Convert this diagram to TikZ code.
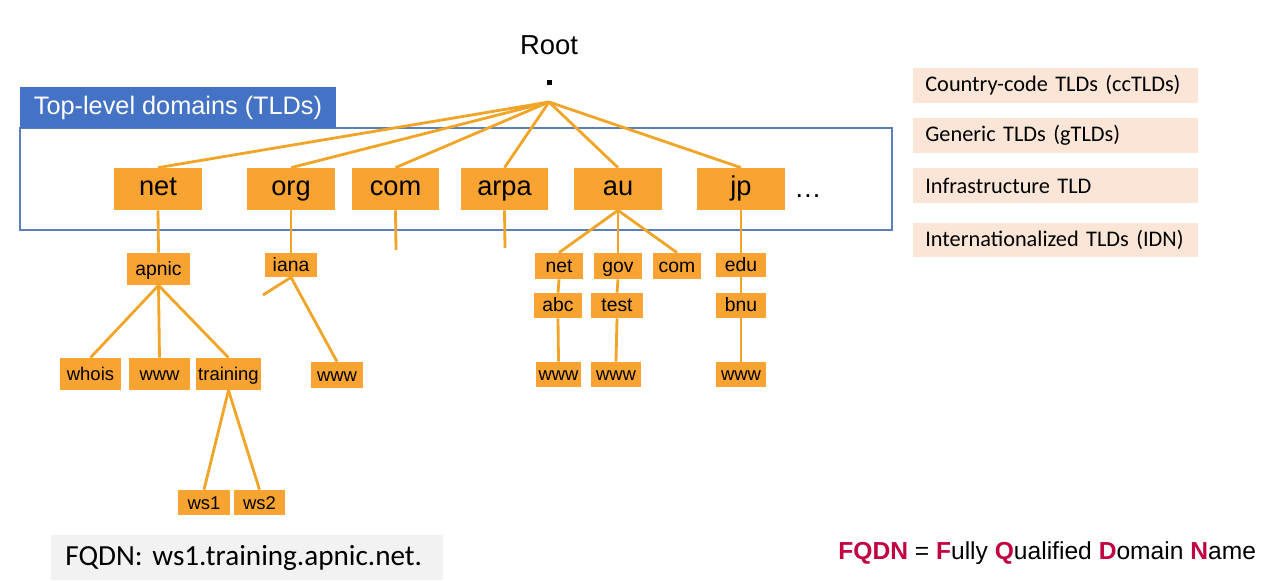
\documentclass[tikz,border=0pt]{standalone}
\usepackage{fontspec}
\setmainfont{Liberation Sans}
\newfontfamily\calibrifont{Carlito}
\frenchspacing
\definecolor{boxorange}{HTML}{F9A332}
\definecolor{lineorange}{HTML}{F0A428}
\definecolor{tabblue}{HTML}{4472C4}
\definecolor{tldblue}{HTML}{5B80B8}
\definecolor{legendpeach}{HTML}{FBE5D6}
\definecolor{fqdngrey}{HTML}{F2F2F2}
\definecolor{fqdnred}{HTML}{C00040}

\begin{document}
\begin{tikzpicture}[x=0.02cm, y=-0.02cm,
  tld/.style={fill=boxorange, minimum width=1.76cm, minimum height=0.84cm, inner sep=0pt, text height=1.85ex, text depth=0.35ex, font=\fontsize{15.5}{18}\selectfont},
  sub/.style={fill=boxorange, inner sep=0pt, minimum height=0.52cm, text height=1.8ex, text depth=0.4ex, font=\fontsize{11}{13}\selectfont},
  leaf/.style={fill=boxorange, inner sep=0pt, minimum height=0.5cm, text height=1.8ex, text depth=0.4ex, font=\fontsize{10.5}{12}\selectfont},
  link/.style={draw=lineorange, line width=1.6pt},
  legend/.style={fill=legendpeach, anchor=west, text width=5.22cm, inner xsep=0.24cm, inner ysep=0pt, minimum height=0.7cm, align=left, font=\calibrifont\fontsize{12.7}{15}\selectfont}]
  \useasboundingbox (0,0) rectangle (1269,581);
  % cuadro de dominios de nivel superior
  \draw[draw=tldblue, line width=1.1pt] (20,128) rectangle (892,230);
  \fill[tabblue] (20,87) rectangle (336,128);
  \node[text=white, font=\fontsize{14.4}{17}\selectfont] (tabtitle) at (178,107.5) {Top-level domains (TLDs)};
  % raiz
  \node[font=\fontsize{15.6}{18}\selectfont] (roottxt) at (549,45) {Root};
  \node[fill=black, minimum size=0.1cm, inner sep=0pt] (root) at (549,83) {};
  \coordinate (hub) at (549,102);
  % --- TLDs ---
  \foreach \n/\x in {net/158,org/291,com/395.5,arpa/504.5,au/618,jp/741}
    \node[tld] (\n) at (\x,189) {\n};
  \node[font=\fontsize{15.5}{18}\selectfont] (more) at (808,196) {…};
  \foreach \n in {net,org,com,arpa,au,jp} \draw[link] (hub) -- (\n.north);
  % --- segundo nivel ---
  \node[sub, minimum width=1.26cm, minimum height=0.64cm] (apnic) at (158.5,269) {apnic};
  \node[sub, minimum width=1.04cm, minimum height=0.48cm] (iana) at (291,265) {iana};
  \foreach \n/\t/\x in {aunet/net/559,gov/gov/618,aucom/com/677}
    \node[sub, minimum width=0.96cm] (\n) at (\x,266) {\t};
  \node[sub, minimum width=1cm, minimum height=0.48cm] (edu) at (741,265) {edu};
  \node[sub, minimum width=0.96cm, minimum height=0.5cm] (abc) at (558,305.5) {abc};
  \node[sub, minimum width=1.04cm, minimum height=0.5cm] (test) at (617,305.5) {test};
  \node[sub, minimum width=1cm, minimum height=0.5cm] (bnu) at (741,305.5) {bnu};
  \coordinate (comend) at (396,250);
  \coordinate (arpaend) at (505,248);
  \coordinate (ianastub) at (263,295);
  % --- hojas ---
  \node[leaf, minimum width=1.22cm, minimum height=0.64cm] (whois) at (90.5,374) {whois};
  \node[leaf, minimum width=1.22cm, minimum height=0.64cm] (apwww) at (159.5,374) {www};
  \node[leaf, minimum width=1.3cm, minimum height=0.64cm] (training) at (228.5,374) {training};
  \node[leaf, minimum width=1.04cm, minimum height=0.52cm] (ianawww) at (337,375) {www};
  \node[leaf, minimum width=0.9cm] (abcwww) at (558.5,374.5) {www};
  \node[leaf, minimum width=1cm] (testwww) at (616,374.5) {www};
  \node[leaf, minimum width=1cm] (bnuwww) at (741,374.5) {www};
  \node[leaf, minimum width=1.04cm] (ws1) at (204,502.5) {ws1};
  \node[leaf, minimum width=1.02cm] (ws2) at (259.5,502.5) {ws2};
  % conexiones
  \draw[link] (net.south) -- (apnic.north);
  \draw[link] (org.south) -- (iana.north);
  \draw[link] (com.south) -- (comend);
  \draw[link] (arpa.south) -- (arpaend);
  \foreach \n in {aunet,gov,aucom} \draw[link] (au.south) -- (\n.north);
  \draw[link] (jp.south) -- (edu.north);
  \draw[link] (aunet.south) -- (abc.north);
  \draw[link] (gov.south) -- (test.north);
  \draw[link] (edu.south) -- (bnu.north);
  \draw[link] (abc.south) -- (abcwww.north);
  \draw[link] (test.south) -- (testwww.north);
  \draw[link] (bnu.south) -- (bnuwww.north);
  \foreach \n in {whois,apwww,training} \draw[link] (apnic.south) -- (\n.north);
  \foreach \n in {ws1,ws2} \draw[link] (training.south) -- (\n.north);
  \draw[link] (iana.south) -- (ianawww.north);
  \draw[link] (iana.south) -- (ianastub);
  % leyenda
  \node[legend] (cctld) at (913,85.5) {Country-code TLDs (ccTLDs)};
  \node[legend] (gtld) at (913,135.5) {Generic TLDs (gTLDs)};
  \node[legend] (infra) at (913,185.5) {Infrastructure TLD};
  \node[legend] (idn) at (913,240) {Internationalized TLDs (IDN)};
  % FQDN
  \node[fill=fqdngrey, anchor=west, text width=7.28cm, inner xsep=0.28cm, inner ysep=0pt, minimum height=0.9cm, align=left, font=\calibrifont\fontsize{16.6}{19}\selectfont] (example) at (51,557.5) {FQDN: ws1.training.apnic.net.};
  \node[anchor=west, inner sep=0pt, font=\fontsize{14}{17}\selectfont] (meaning) at (838,553)
    {\textcolor{fqdnred}{\textbf{FQDN}} = \textcolor{fqdnred}{\textbf{F}}ully \textcolor{fqdnred}{\textbf{Q}}ualified \textcolor{fqdnred}{\textbf{D}}omain \textcolor{fqdnred}{\textbf{N}}ame};
\end{tikzpicture}
\end{document}
